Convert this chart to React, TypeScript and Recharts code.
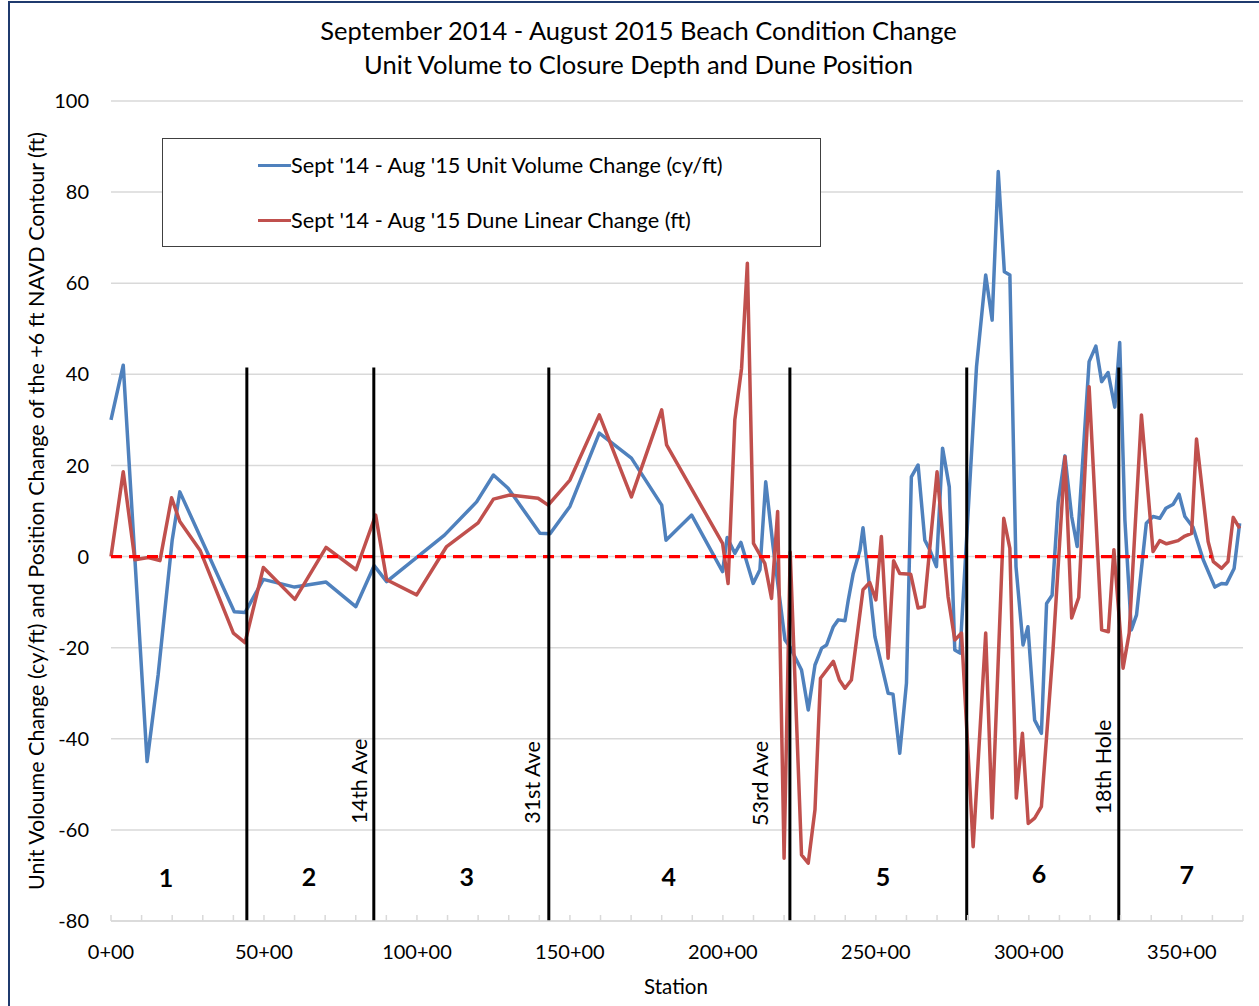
import {
  LineChart,
  Line,
  XAxis,
  YAxis,
  CartesianGrid,
  ReferenceLine,
  ReferenceDot,
} from "recharts";

// station (hundreds of ft) and values
const volumeStations = [
  0, 4, 11.8, 15.4, 20, 22.5, 40.3, 43.8, 49.8, 60, 70.3, 80, 86, 90.1, 109, 119.5, 125, 129.8,
  140.2, 143.5, 150, 159.6, 170.1, 180, 181.4, 189.8, 199.9, 201.4, 203.9, 205.9, 209.9, 212.1,
  214, 216.4, 220.3, 221.9, 225.7, 227.9, 230.1, 232.3, 233.9, 236.1, 237.7, 239.9, 241, 242.6,
  244.8, 245.8, 249.7, 254, 255.6, 257.8, 260, 261.6, 263.8, 266, 267.6, 269.8, 271.8, 274, 275.8,
  277.5, 282.9, 285.9, 288, 290, 292, 293.8, 295.8, 298.1, 299.7, 301.9, 304.1, 305.8, 307.6,
  309.6, 311.8, 314, 315.8, 319.7, 321.9, 323.8, 325.9, 328.1, 329.7, 331.4, 333.5, 335.2, 338.4,
  340.6, 342.8, 344.8, 347.2, 349.1, 351, 353.7, 357, 360.8, 363, 364.6, 367.1, 368.9,
];
const volumeChange = [
  30, 42, -45, -26, 3.6, 14.2, -12.1, -12.3, -5, -6.7, -5.6, -11, -2, -5.5, 4.7, 12, 17.9, 15,
  5.1, 5, 11, 27.1, 21.6, 11.3, 3.6, 9.1, -3.3, 4.2, 0.7, 3.1, -5.9, -2.9,
  16.4, 2.2, -18.3, -19.8, -24.9, -33.7, -23.8, -20.1, -19.4, -15.4, -13.9, -14.1, -9.5, -3.7,
  1.4, 6.3, -17.6, -30, -30.2, -43.2, -27.8, 17.5, 20.1, 3.6, 1.5, -2.2, 23.8, 15.3, -20.5,
  -21.2, 41.7, 61.8, 51.9, 84.5, 62.5, 61.8, -2.2, -19.4, -15.4, -35.9, -38.8, -10.3, -8.5,
  12, 22.1, 8.8, 2.2, 42.8, 46.2, 38.4, 40.4, 32.8, 47, 8, -16.1, -12.8, 7.3,
  8.8, 8.4, 10.6, 11.5, 13.7, 8.8, 6.4, -0.7, -6.7, -5.9, -6, -2.6, 7.3,
];

const duneStations = [
  0, 4, 7.8, 12.2, 16, 19.8, 22.5, 29.1, 40, 43.8, 49.8, 60.1, 70.3, 80.1, 86.5, 90.1, 99.9,
  109.7, 120, 125, 130.4, 139.6, 142.9, 150, 159.6, 170.1, 180, 181.6, 199.9, 201.7, 203.9, 206.1,
  208, 210, 213.7, 215.9, 217.9, 220, 222, 225.7, 227.9, 230.1, 231.9, 236.1, 238.1, 239.9, 242,
  245.8, 248, 250, 251.8, 254, 255.8, 257.8, 261.4, 263.8, 265.8, 270, 273.6, 275.8, 278, 281.8,
  285.9, 288, 291.8, 293.8, 295.9, 297.9, 299.8, 301.9, 304.1, 307.9, 311.8, 314, 316.3, 319.7,
  323.8, 326, 327.8, 330.8, 332.8, 336.8, 340.6, 342.8, 345, 348.8, 351, 353.2, 354.8, 358.6,
  360.3, 363, 365.1, 366.8, 368.9,
];
const duneChange = [
  0, 18.6, -0.7, -0.2, -0.9, 12.9, 7.7, 1.4, -16.8, -18.9, -2.4, -9.4, 2, -2.9, 9.1, -5.1, -8.4,
  2.2, 7.4, 12.6, 13.5, 12.8, 11.3, 16.8, 31.1, 13.1, 32.2, 24.5, 2.9, -5.9, 30, 41.3,
  64.4, 2.9, -1.5, -9.2, 9.9, -66.2, 1, -65.5, -67.3, -55.6, -26.7, -23, -27.1, -28.9, -27.1,
  -7.3, -5.7, -9.5, 4.4, -22.3, -0.9, -3.7, -3.9, -11.3, -11, 18.6, -8.8, -18.3, -16.8, -63.7,
  -16.8, -57.4, 8.4, 1.8, -53, -38.8, -58.6, -57.4, -54.9, -20.5, 21.9, -13.5, -9, 37.3,
  -16.1, -16.5, 1.5, -24.5, -16.8, 31.1, 1.1, 3.5, 2.8, 3.5, 4.5, 5.1, 25.8, 3.3,
  -1.1, -2.6, -1.1, 8.6, 6.2,
];

const yTicks = [-80, -60, -40, -20, 0, 20, 40, 60, 80, 100];
const xTicks = [0, 10, 20, 30, 40, 50, 60, 70, 80, 90, 100, 110, 120, 130, 140, 150, 160, 170, 180,
  190, 200, 210, 220, 230, 240, 250, 260, 270, 280, 290, 300, 310, 320, 330, 340, 350, 360, 370];

const dividerStations = [44.4, 85.9, 143.1, 221.9, 279.7, 329.4];
const streetNames = ["14th Ave", "31st Ave", "53rd Ave", "18th Hole"];
const streetStations = [85.9, 143.1, 221.9, 329.4];
const streetY = [-49.3, -49.6, -49.8, -46.2];
const streetShift = [7, 9, 22, 8];
const sectionNames = ["1", "2", "3", "4", "5", "6", "7"];
const sectionStations = [18, 64.7, 116.3, 182.3, 252.3, 303.3, 351.6];
const sectionY = [-70.4, -70.2, -70.2, -70.2, -70.2, -69.4, -69.7];

const volumeData = volumeStations.map((s, i) => ({ station: s, value: volumeChange[i] }));
const duneData = duneStations.map((s, i) => ({ station: s, value: duneChange[i] }));

const FONT = "Lato, 'Liberation Sans', sans-serif";
const BLUE = "#4F81BD";
const RED = "#C0504D";

function StationTick(props: any) {
  const { x, y, payload } = props;
  const v = payload.value;
  return (
    <g>
      <line x1={x} x2={x} y1={y - 6} y2={y} stroke="#D9D9D9" strokeWidth={1.5} />
      {v % 50 === 0 ? (
        <text x={x} y={y + 38} textAnchor="middle" fontSize={20} fontFamily={FONT} fill="#000">
          {v}+00
        </text>
      ) : null}
    </g>
  );
}

const sectionShape = (name: string) => (p: any) => (
  <text x={p.cx} y={p.cy} textAnchor="middle" dominantBaseline="central" fontSize={25}
    fontWeight="bold" fontFamily={FONT} fill="#000">
    {name}
  </text>
);

const streetShape = (name: string, shift: number) => (p: any) => (
  <text x={p.cx - shift} y={p.cy} transform={`rotate(-90 ${p.cx - shift} ${p.cy})`} textAnchor="middle"
    fontSize={21.5} fontFamily={FONT} fill="#000">
    {name}
  </text>
);

export default function App() {
  return (
    <div style={{ position: "absolute", left: 0, top: 0, width: 1259, height: 1006, overflow: "hidden", background: "#fff", fontFamily: FONT }}>
      <div style={{ position: "absolute", left: 8, top: 1, width: 1270, height: 1020, border: "2px solid #1F3A6E" }} />

      <div style={{ position: "absolute", left: 138, top: 13, width: 1001, textAlign: "center", fontSize: 25.5, lineHeight: "34px", color: "#000" }}>
        September 2014 - August 2015 Beach Condition Change
        <br />
        Unit Volume to Closure Depth and Dune Position
      </div>

      <LineChart width={1259} height={1006} margin={{ top: 101, right: 16, bottom: 45, left: 51 }}
        style={{ position: "absolute", left: 0, top: 0 }}>
        <CartesianGrid vertical={false} stroke="#D9D9D9" strokeWidth={1.5} />
        <XAxis dataKey="station" type="number" domain={[0, 370]} ticks={xTicks} interval={0}
          height={40} tickSize={0} tickMargin={0} tickLine={false}
          axisLine={{ stroke: "#D9D9D9", strokeWidth: 1.5 }} tick={<StationTick />} />
        <YAxis type="number" domain={[-80, 100]} ticks={yTicks} interval={0} width={60}
          axisLine={false} tickLine={false} tickSize={0} tickMargin={22}
          tick={{ fontSize: 20, fill: "#000", fontFamily: FONT }} />
        <Line data={volumeData} dataKey="value" stroke={BLUE} strokeWidth={3.5} dot={false}
          isAnimationActive={false} strokeLinejoin="round" />
        <Line data={duneData} dataKey="value" stroke={RED} strokeWidth={3.5} dot={false}
          isAnimationActive={false} strokeLinejoin="round" />
        <ReferenceLine segment={[{ x: 0, y: 0 }, { x: 360, y: 0 }]} stroke="#FF0000" strokeWidth={3.2}
          strokeDasharray="11 7" />
        {dividerStations.map((s) => (
          <ReferenceLine key={s} segment={[{ x: s, y: -80 }, { x: s, y: 41.5 }]} stroke="#000" strokeWidth={3} />
        ))}
        {streetNames.map((n, i) => (
          <ReferenceDot key={n} x={streetStations[i]} y={streetY[i]} r={0} shape={streetShape(n, streetShift[i])} />
        ))}
        {sectionNames.map((n, i) => (
          <ReferenceDot key={n} x={sectionStations[i]} y={sectionY[i]} r={0} shape={sectionShape(n)} />
        ))}
      </LineChart>

      <div style={{ position: "absolute", left: 162, top: 138, width: 657, height: 107, border: "1.5px solid #404040", background: "#fff" }}>
        {[
          { c: BLUE, t: "Sept '14 - Aug '15 Unit Volume Change (cy/ft)", top: 13 },
          { c: RED, t: "Sept '14 - Aug '15 Dune Linear Change (ft)", top: 68 },
        ].map((e) => (
          <div key={e.t} style={{ position: "absolute", left: 95, top: e.top, display: "flex", alignItems: "center", height: 26 }}>
            <div style={{ width: 33, height: 3, background: e.c }} />
            <span style={{ fontSize: 21.7, color: "#000", whiteSpace: "nowrap" }}>{e.t}</span>
          </div>
        ))}
      </div>

      <div style={{ position: "absolute", left: 36, top: 511, width: 0, height: 0 }}>
        <div style={{ position: "absolute", left: -450, top: -13, width: 900, textAlign: "center", fontSize: 21.5, lineHeight: "26px", transform: "rotate(-90deg)", color: "#000", whiteSpace: "nowrap" }}>
          Unit Voloume Change (cy/ft) and Position Change of the +6 ft NAVD Contour (ft)
        </div>
      </div>

      <div style={{ position: "absolute", left: 576, top: 973, width: 200, textAlign: "center", fontSize: 20.5, lineHeight: "26px", color: "#000" }}>
        Station
      </div>
    </div>
  );
}
